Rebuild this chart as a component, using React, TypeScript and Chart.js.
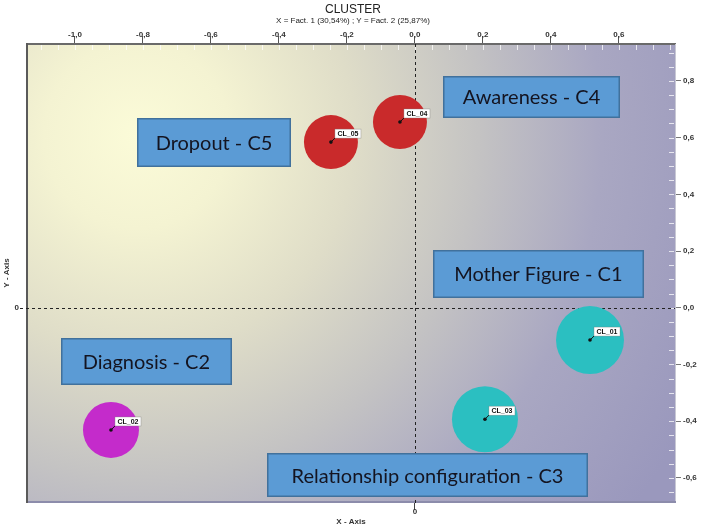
import React, { useEffect, useRef } from "react";
import { Chart, registerables } from "chart.js";

Chart.register(...registerables);

// ---- data ----
const categories = ["CL_01", "CL_02", "CL_03", "CL_04", "CL_05"];
const factor1 = [0.515, -0.894, 0.206, -0.044, -0.247];
const factor2 = [-0.114, -0.431, -0.393, 0.655, 0.584];
const bubbleRadius = [34, 28, 33, 27, 27];
const bubbleColors = ["#2bbfc1", "#c42bcb", "#2bbfc1", "#c92a2b", "#c92a2b"];

const xTicks = [-1.0, -0.8, -0.6, -0.4, -0.2, 0.0, 0.2, 0.4, 0.6];
const yTicks = [-0.6, -0.4, -0.2, 0.0, 0.2, 0.4, 0.6, 0.8];
const xRange = [-1.141, 0.765];
const yRange = [-0.685, 0.93];

const boxLabels = [
  "Awareness - C4",
  "Dropout - C5",
  "Mother Figure - C1",
  "Diagnosis - C2",
  "Relationship configuration - C3",
];
const boxX = [0.343, -0.591, 0.363, -0.79, 0.037];
const boxY = [0.743, 0.583, 0.119, -0.19, -0.59];

const titleText = "CLUSTER";
const subtitleText = "X = Fact. 1 (30,54%) ; Y = Fact. 2 (25,87%)";
const xAxisTitle = "X - Axis";
const yAxisTitle = "Y - Axis";

// ---- styles ----
const boxSizes = [
  [177, 42],
  [154, 49],
  [211, 48],
  [171, 47],
  [321, 44],
];
const FONT = "'Liberation Sans', Arial, sans-serif";
const BOX_FONT = "Lato, 'Open Sans', sans-serif";

const fmt = (v: number) => (Math.abs(v) < 1e-9 ? 0 : v).toFixed(1).replace(".", ",");

const bgPlugin = {
  id: "bg",
  beforeDraw(chart: any) {
    const { ctx, chartArea: a } = chart;
    ctx.save();
    const cx = a.left + (a.right - a.left) * 0.17;
    const cy = a.top + (a.bottom - a.top) * 0.2;
    const g = ctx.createRadialGradient(cx, cy, 0, cx, cy, 620);
    g.addColorStop(0, "#fbfbd8");
    g.addColorStop(0.15, "#f4f3d2");
    g.addColorStop(0.35, "#dfddc8");
    g.addColorStop(0.55, "#c4c3c3");
    g.addColorStop(0.75, "#a9a7c2");
    g.addColorStop(1, "#9a98bd");
    ctx.fillStyle = g;
    ctx.fillRect(a.left, a.top, a.right - a.left, a.bottom - a.top);
    ctx.restore();
  },
};

const overlayPlugin = {
  id: "overlay",
  beforeDatasetsDraw(chart: any) {
    const { ctx, chartArea: a, scales } = chart;
    const x0 = scales.x.getPixelForValue(0);
    const y0 = scales.y.getPixelForValue(0);
    ctx.save();
    // minor ticks
    ctx.strokeStyle = "rgba(255,255,255,0.75)";
    ctx.lineWidth = 1;
    for (let v = -1.1; v <= 0.76; v += 0.05) {
      const px = Math.round(scales.x.getPixelForValue(v)) + 0.5;
      if (px <= a.left + 2 || px >= a.right - 1) continue;
      ctx.beginPath();
      ctx.moveTo(px, a.top + 1);
      ctx.lineTo(px, a.top + 6);
      ctx.stroke();
    }
    for (let v = -0.65; v <= 0.93; v += 0.05) {
      const py = Math.round(scales.y.getPixelForValue(v)) + 0.5;
      if (py <= a.top + 2 || py >= a.bottom - 1) continue;
      ctx.beginPath();
      ctx.moveTo(a.right - 6, py);
      ctx.lineTo(a.right - 1, py);
      ctx.stroke();
    }
    // zero lines
    ctx.strokeStyle = "#222";
    ctx.lineWidth = 1;
    ctx.setLineDash([3, 3]);
    ctx.beginPath();
    ctx.moveTo(Math.round(x0) + 0.5, a.top);
    ctx.lineTo(Math.round(x0) + 0.5, a.bottom + 4);
    ctx.stroke();
    ctx.beginPath();
    ctx.moveTo(20, Math.round(y0) + 0.5);
    ctx.lineTo(a.right, Math.round(y0) + 0.5);
    ctx.stroke();
    ctx.restore();
  },
  afterDatasetsDraw(chart: any) {
    const { ctx, scales } = chart;
    const meta = chart.getDatasetMeta(0);
    ctx.save();
    meta.data.forEach((el: any, i: number) => {
      const cx = el.x;
      const cy = el.y;
      ctx.strokeStyle = "#111";
      ctx.lineWidth = 1;
      ctx.beginPath();
      ctx.moveTo(cx, cy);
      ctx.lineTo(cx + 6, cy - 6);
      ctx.stroke();
      ctx.fillStyle = "#111";
      ctx.beginPath();
      ctx.arc(cx, cy, 1.8, 0, Math.PI * 2);
      ctx.fill();
      ctx.font = `bold 7px ${FONT}`;
      const tw = ctx.measureText(categories[i]).width;
      const bx = cx + 4;
      const by = cy - 13;
      ctx.fillStyle = "#ffffff";
      ctx.fillRect(bx, by, tw + 5, 9);
      ctx.strokeStyle = "rgba(120,120,120,0.6)";
      ctx.lineWidth = 0.6;
      ctx.strokeRect(bx, by, tw + 5, 9);
      ctx.fillStyle = "#111";
      ctx.textBaseline = "middle";
      ctx.textAlign = "left";
      ctx.fillText(categories[i], bx + 2.5, by + 4.8);
    });
    boxLabels.forEach((label, i) => {
      const px = scales.x.getPixelForValue(boxX[i]);
      const py = scales.y.getPixelForValue(boxY[i]);
      const [w, h] = boxSizes[i];
      const left = Math.round(px - w / 2);
      const top = Math.round(py - h / 2);
      ctx.fillStyle = "#5b9bd5";
      ctx.fillRect(left, top, w, h);
      ctx.strokeStyle = "#41719c";
      ctx.lineWidth = 1.5;
      ctx.strokeRect(left + 0.75, top + 0.75, w - 1.5, h - 1.5);
      ctx.fillStyle = "#141420";
      ctx.font = `20px ${BOX_FONT}`;
      ctx.textAlign = "center";
      ctx.textBaseline = "middle";
      ctx.fillText(label, px, py + 1);
    });
    ctx.restore();
  },
  afterDraw(chart: any) {
    const { ctx } = chart;
    const cx = chart.width / 2;
    ctx.save();
    ctx.fillStyle = "#222";
    ctx.textAlign = "center";
    ctx.textBaseline = "middle";
    ctx.font = `12px ${FONT}`;
    ctx.fillText(titleText, cx, 10);
    ctx.font = `8px ${FONT}`;
    ctx.fillText(subtitleText, cx, 21);
    ctx.restore();
  },
};

export default function App() {
  const ref = useRef<HTMLCanvasElement | null>(null);
  useEffect(() => {
    const canvas = ref.current;
    if (!canvas) return;
    Chart.defaults.font.family = FONT;
    const chart = new Chart(canvas, {
      type: "bubble",
      data: {
        datasets: [
          {
            label: "clusters",
            data: categories.map((c, i) => ({ x: factor1[i], y: factor2[i], r: bubbleRadius[i] })),
            backgroundColor: bubbleColors,
            borderColor: bubbleColors,
            borderWidth: 0,
            hoverRadius: 0,
          },
        ],
      },
      options: {
        animation: false,
        responsive: false,
        maintainAspectRatio: false,
        events: [],
        layout: { autoPadding: false, padding: { top: 26, left: 0, right: 0, bottom: 0 } },
        plugins: {
          legend: { display: false },
          tooltip: { enabled: false },
          title: { display: false },
        },
        scales: {
          x: {
            type: "linear",
            position: "top",
            min: xRange[0],
            max: xRange[1],
            afterBuildTicks: (s: any) => {
              s.ticks = xTicks.map((v) => ({ value: v }));
            },
            afterFit: (s: any) => {
              s.height = 18;
            },
            ticks: {
              callback: (v: any) => fmt(Number(v)),
              font: { size: 8, weight: "bold" },
              color: "#333",
              padding: -4,
              maxRotation: 0,
              autoSkip: false,
            },
            grid: { drawOnChartArea: false, drawTicks: true, tickLength: 8, color: "#555" },
            border: { display: true, color: "#6a6a6a", width: 2 },
          },
          y: {
            type: "linear",
            position: "right",
            min: yRange[0],
            max: yRange[1],
            afterBuildTicks: (s: any) => {
              s.ticks = yTicks.map((v) => ({ value: v }));
            },
            afterFit: (s: any) => {
              s.width = 31;
            },
            ticks: {
              callback: (v: any) => fmt(Number(v)),
              font: { size: 8, weight: "bold" },
              color: "#333",
              padding: 2,
              autoSkip: false,
            },
            grid: { drawOnChartArea: false, drawTicks: true, tickLength: 6, color: "#777" },
            border: { display: true, color: "#c8c8d4", width: 1 },
          },
          x2: {
            type: "linear",
            position: "bottom",
            min: xRange[0],
            max: xRange[1],
            afterBuildTicks: (s: any) => {
              s.ticks = [{ value: 0 }];
            },
            afterFit: (s: any) => {
              s.height = 27;
            },
            ticks: {
              callback: () => "0",
              font: { size: 8, weight: "bold" },
              color: "#333",
              padding: -3,
              maxRotation: 0,
            },
            title: {
              display: true,
              text: xAxisTitle,
              font: { size: 8, weight: "bold" },
              color: "#333",
              padding: { top: 0, bottom: 2 },
            },
            grid: { drawOnChartArea: false, drawTicks: true, tickLength: 8, color: "#444" },
            border: { display: true, color: "#8c8cab", width: 2 },
          },
          y2: {
            type: "linear",
            position: "left",
            min: yRange[0],
            max: yRange[1],
            afterBuildTicks: (s: any) => {
              s.ticks = [{ value: 0 }];
            },
            afterFit: (s: any) => {
              s.width = 27;
            },
            ticks: {
              callback: () => "0",
              font: { size: 8, weight: "bold" },
              color: "#333",
              padding: 8,
            },
            title: {
              display: true,
              text: yAxisTitle,
              font: { size: 8, weight: "bold" },
              color: "#333",
              padding: { top: 2, bottom: 0 },
            },
            grid: { drawOnChartArea: false, drawTicks: true, tickLength: 0, color: "#444" },
            border: { display: true, color: "#5a5a5a", width: 2 },
          },
        },
      } as any,
      plugins: [bgPlugin, overlayPlugin],
    });
    return () => chart.destroy();
  }, []);
  return (
    <div style={{ position: "absolute", left: 0, top: 0, width: 706, height: 529 }}>
      <canvas ref={ref} width={706} height={529} style={{ display: "block" }} />
    </div>
  );
}
